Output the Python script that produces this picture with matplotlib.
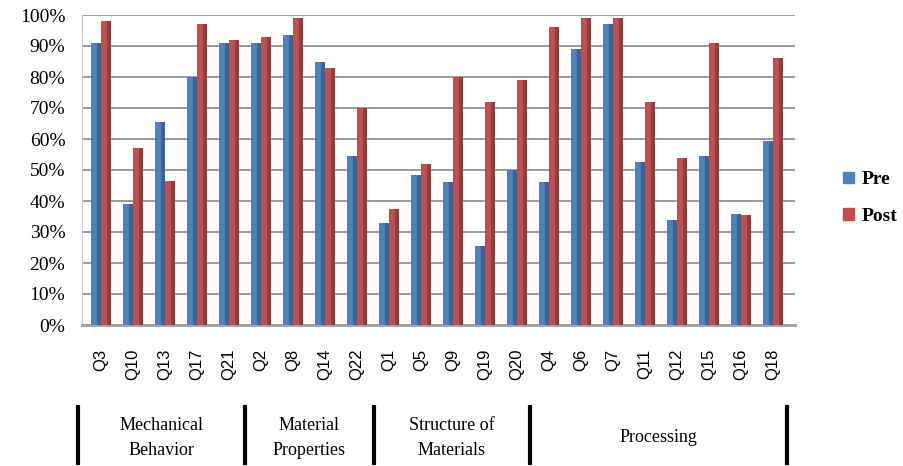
import matplotlib.pyplot as plt
import numpy as np
from matplotlib.patches import Patch

# 数据
questions = ["Q3", "Q10", "Q13", "Q17", "Q21", "Q2", "Q8", "Q14", "Q22",
             "Q1", "Q5", "Q9", "Q19", "Q20", "Q4", "Q6", "Q7", "Q11", "Q12",
             "Q15", "Q16", "Q18"]
pre = [91, 39, 65.5, 80, 91, 91, 93.5, 85, 54.5,
       33, 48.5, 46, 25.5, 50, 46, 89, 97, 52.5, 34, 54.5, 35.8, 59.5]
post = [98, 57, 46.5, 97, 92, 93, 99, 83, 70,
        37.5, 52, 80, 72, 79, 96, 99, 99, 72, 54, 91, 35.5, 86]
groups = ["Mechanical\nBehavior", "Material\nProperties",
          "Structure of\nMaterials", "Processing"]

blue = "#4f81bd"
red = "#c0504d"
blue_dark = "#3a6496"
red_dark = "#963c3a"
serif = "Liberation Serif"

fig = plt.figure(figsize=(9.04, 4.66), dpi=100)
ax = fig.add_axes([82 / 904, 1 - 325 / 466, (795 - 82) / 904, 310 / 466])

x = np.arange(len(questions))
w = 0.3
off = 0.16

# 网格线
ax.set_axisbelow(True)
ax.yaxis.grid(True, color="#8a8a8a", linewidth=1.2)

ax.bar(x - off, pre, width=w, color=blue, zorder=3)
ax.bar(x + off, post, width=w, color=red, zorder=3)
# 侧面阴影
ax.bar(x - off + w * 0.32, pre, width=w * 0.36, color=blue_dark, zorder=3)
ax.bar(x + off + w * 0.32, post, width=w * 0.36, color=red_dark, zorder=3)

ax.set_ylim(0, 100)
ax.set_xlim(-0.59, 21.69)
ax.set_yticks(range(0, 101, 10))
ax.set_yticklabels([f"{v}%" for v in range(0, 101, 10)],
                   fontsize=14, family=serif)
ax.set_xticks(x)
ax.set_xticklabels(questions, rotation=90, fontsize=12,
                   family="Liberation Sans")
ax.tick_params(axis="y", length=0, pad=12)
ax.tick_params(axis="x", length=0, pad=17)

for s in ["top", "right"]:
    ax.spines[s].set_visible(False)
ax.spines["left"].set_color("#c8c8c8")
ax.spines["bottom"].set_color("#a0a0a0")
ax.spines["bottom"].set_linewidth(2)

# 图例
handles = [Patch(color=blue, label="Pre"), Patch(color=red, label="Post")]
fig.legend(handles=handles, loc="center left",
           bbox_to_anchor=(843 / 904, 1 - 198 / 466), frameon=False,
           borderpad=0, borderaxespad=0,
           prop={"family": serif, "size": 14, "weight": "bold"},
           handlelength=0.55, handleheight=0.55, handletextpad=0.4,
           labelspacing=1.0)

# 分组标签
bounds = [78, 245, 374, 530, 787]
for b in bounds:
    fig.add_artist(plt.Line2D([b / 904, b / 904], [1 - 407 / 466, 1 - 463 / 466],
                              color="black", linewidth=3))
for i, g in enumerate(groups):
    cx = (bounds[i] + bounds[i + 1]) / 2 / 904
    fig.text(cx, 1 - 438 / 466, g, ha="center", va="center", fontsize=13,
             family=serif, linespacing=1.6)

fig.savefig("out.png", dpi=100)
